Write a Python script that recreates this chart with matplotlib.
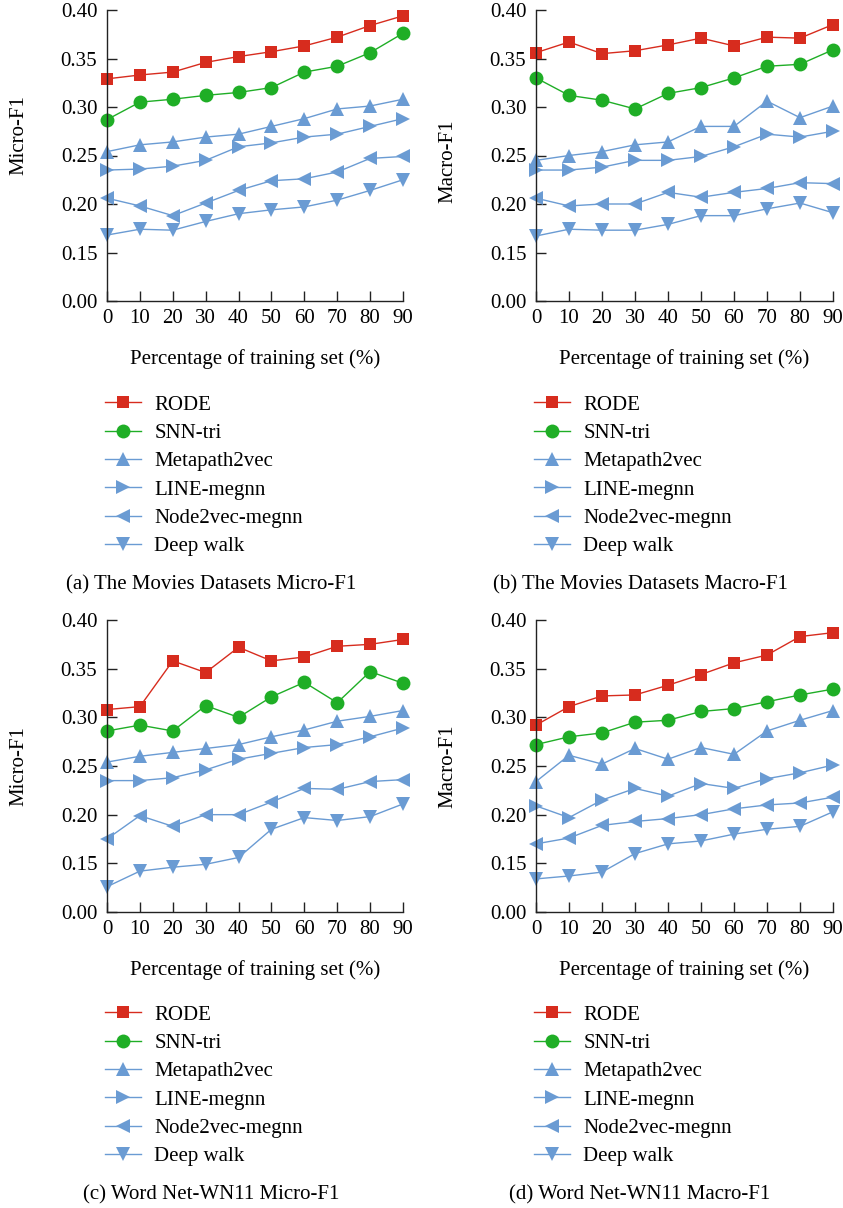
import matplotlib
matplotlib.use('Agg')
import matplotlib.pyplot as plt

plt.rcParams['font.family'] = ['Liberation Serif', 'DejaVu Serif']
plt.rcParams['font.size'] = 15

pct = [0, 10, 20, 30, 40, 50, 60, 70, 80, 90]
methods = ['RODE', 'SNN-tri', 'Metapath2vec', 'LINE-megnn', 'Node2vec-megnn', 'Deep walk']

# rows follow the order of `methods`
movies_micro = [
    [0.329, 0.333, 0.336, 0.346, 0.352, 0.357, 0.363, 0.372, 0.384, 0.394],
    [0.287, 0.305, 0.308, 0.312, 0.315, 0.320, 0.336, 0.342, 0.356, 0.376],
    [0.254, 0.261, 0.264, 0.269, 0.272, 0.280, 0.288, 0.298, 0.301, 0.308],
    [0.235, 0.236, 0.239, 0.245, 0.259, 0.263, 0.269, 0.272, 0.280, 0.288],
    [0.206, 0.198, 0.188, 0.201, 0.214, 0.224, 0.226, 0.233, 0.247, 0.249],
    [0.168, 0.174, 0.173, 0.182, 0.190, 0.194, 0.197, 0.204, 0.214, 0.225],
]
movies_macro = [
    [0.356, 0.367, 0.355, 0.358, 0.364, 0.371, 0.363, 0.372, 0.371, 0.385],
    [0.330, 0.312, 0.307, 0.298, 0.314, 0.320, 0.330, 0.342, 0.344, 0.359],
    [0.245, 0.250, 0.254, 0.261, 0.264, 0.280, 0.280, 0.306, 0.289, 0.301],
    [0.235, 0.235, 0.238, 0.245, 0.245, 0.249, 0.259, 0.272, 0.269, 0.275],
    [0.206, 0.198, 0.200, 0.200, 0.212, 0.207, 0.212, 0.216, 0.222, 0.221],
    [0.167, 0.174, 0.173, 0.173, 0.179, 0.188, 0.188, 0.195, 0.201, 0.191],
]
wordnet_micro = [
    [0.308, 0.311, 0.358, 0.346, 0.372, 0.358, 0.362, 0.373, 0.375, 0.380],
    [0.286, 0.292, 0.286, 0.312, 0.300, 0.321, 0.336, 0.315, 0.347, 0.335],
    [0.254, 0.260, 0.264, 0.268, 0.272, 0.280, 0.287, 0.296, 0.301, 0.307],
    [0.235, 0.235, 0.238, 0.246, 0.257, 0.263, 0.269, 0.272, 0.280, 0.289],
    [0.175, 0.199, 0.188, 0.200, 0.200, 0.213, 0.227, 0.226, 0.234, 0.236],
    [0.126, 0.142, 0.146, 0.149, 0.156, 0.185, 0.197, 0.194, 0.198, 0.211],
]
wordnet_macro = [
    [0.292, 0.311, 0.322, 0.323, 0.333, 0.344, 0.356, 0.364, 0.383, 0.387],
    [0.272, 0.280, 0.284, 0.295, 0.297, 0.306, 0.309, 0.316, 0.323, 0.329],
    [0.234, 0.261, 0.252, 0.268, 0.257, 0.269, 0.262, 0.286, 0.297, 0.307],
    [0.209, 0.197, 0.215, 0.227, 0.219, 0.232, 0.227, 0.237, 0.243, 0.251],
    [0.170, 0.176, 0.189, 0.193, 0.196, 0.200, 0.206, 0.210, 0.212, 0.218],
    [0.134, 0.137, 0.141, 0.160, 0.170, 0.173, 0.180, 0.185, 0.188, 0.203],
]

# y axis is cut: the bottom tick stands for 0.00, the rest are linear
ytick_pos = [0.10, 0.15, 0.20, 0.25, 0.30, 0.35, 0.40]
ytick_lbl = ['0.00', '0.15', '0.20', '0.25', '0.30', '0.35', '0.40']

red = '#d72c1e'
green = '#1fae26'
blue = '#6a9bd3'
styles = [
    dict(color=red, marker='s', ms=8.5),
    dict(color=green, marker='o', ms=10),
    dict(color=blue, marker='^', ms=10),
    dict(color=blue, marker='>', ms=10),
    dict(color=blue, marker='<', ms=10),
    dict(color=blue, marker='v', ms=10),
]

W, H = 843, 1208
fig = plt.figure(figsize=(W / 100, H / 100), dpi=100)

panels = [
    (movies_micro, 'Micro-F1', (107, 10, 296, 291), '(a) The Movies Datasets Micro-F1', 0.57),
    (movies_macro, 'Macro-F1', (536, 10, 297, 291), '(b) The Movies Datasets Macro-F1', 0.48),
    (wordnet_micro, 'Micro-F1', (107, 620, 296, 292), '(c) Word Net-WN11 Micro-F1', 0.5),
    (wordnet_macro, 'Macro-F1', (536, 620, 297, 292), '(d) Word Net-WN11 Macro-F1', 0.5),
]

for data, ylab, (px, py, pw, ph), caption, ylab_y in panels:
    ax = fig.add_axes([px / W, 1 - (py + ph) / H, pw / W, ph / H])
    for vals, name, st in zip(data, methods, styles):
        ax.plot(pct, vals, color=st['color'], marker=st['marker'], ms=st['ms'],
                mew=0, lw=1.0, label=name, clip_on=False)
    ax.set_xlim(0, 90)
    ax.set_ylim(0.10, 0.40)
    ax.set_xticks(pct)
    ax.set_yticks(ytick_pos)
    ax.set_yticklabels(ytick_lbl)
    ax.spines['top'].set_visible(False)
    ax.spines['right'].set_visible(False)
    for s in ('left', 'bottom'):
        ax.spines[s].set_linewidth(1.0)
        ax.spines[s].set_color('#222222')
    ax.tick_params(direction='in', length=7, width=1.0, color='#222222')
    ax.tick_params(axis='x', pad=6)
    ax.tick_params(axis='y', pad=7)
    ax.set_ylabel(ylab)
    ax.yaxis.set_label_coords(-0.265, ylab_y)
    ax.set_xlabel('Percentage of training set (%)')
    ax.xaxis.set_label_coords(0.5, -0.165)

    leg_top = py + 385
    ax.legend(loc='upper left', bbox_to_anchor=((px - 2) / W, 1 - leg_top / H),
              bbox_transform=fig.transFigure, frameon=False, borderpad=0,
              borderaxespad=0, handlelength=1.75, handletextpad=0.62,
              labelspacing=0.42)
    fig.text((px + 104) / W, 1 - (py + 575) / H, caption, ha='center', va='center')

fig.savefig('out.png', dpi=100)
